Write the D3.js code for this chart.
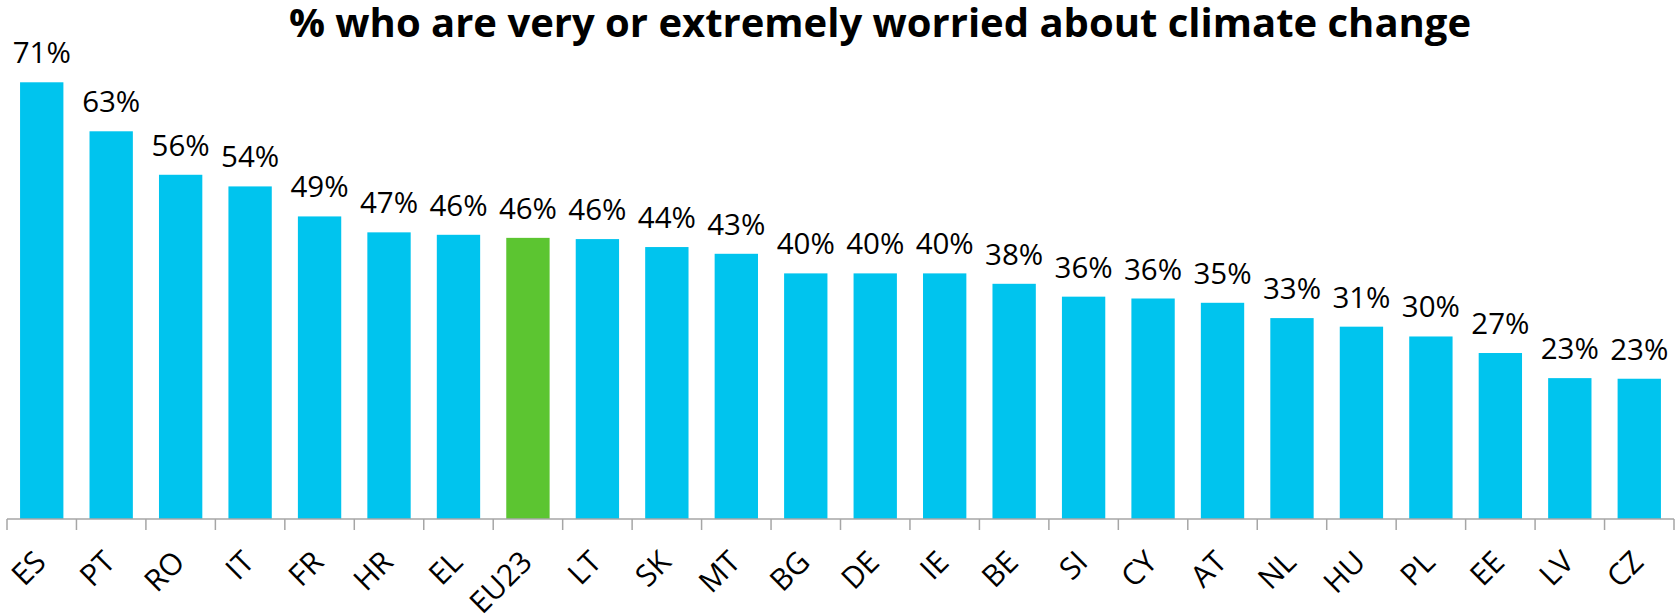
<!DOCTYPE html>
<html>
<head>
<meta charset="utf-8">
<script src="https://cdn.jsdelivr.net/npm/d3@7"></script>
<style>
  body { margin: 0; background: #fff; }
  svg text { font-family: "Open Sans", "Noto Sans", sans-serif; fill: #000; }
</style>
</head>
<body>
<div id="chart"></div>
<script>
// country codes, in chart order
const countries = ['ES', 'PT', 'RO', 'IT', 'FR', 'HR', 'EL', 'EU23', 'LT', 'SK', 'MT', 'BG',
  'DE', 'IE', 'BE', 'SI', 'CY', 'AT', 'NL', 'HU', 'PL', 'EE', 'LV', 'CZ'];

// % very or extremely worried (labels are rounded)
const worried = [71.3, 63.3, 56.2, 54.3, 49.4, 46.8, 46.4, 45.9, 45.7, 44.4, 43.3, 40.1,
  40.1, 40.1, 38.4, 36.3, 36.0, 35.3, 32.8, 31.4, 29.8, 27.1, 23.0, 22.9];

const highlight = ['EU23'];

const chartTitle = '% who are very or extremely worried about climate change';

var width = 1675;
var height = 616;
var margin = {top: 29, right: 1, bottom: 97, left: 7};

var svg = d3.select('#chart').append('svg')
  .attr('width', width)
  .attr('height', height);

var x = d3.scaleBand()
  .domain(countries)
  .range([margin.left, width - margin.right])
  .paddingInner(0.376)
  .paddingOuter(0.188);

var y = d3.scaleLinear()
  .domain([0, 80])
  .range([height - margin.bottom, margin.top]);

var data = countries.map((c, i) => ({code: c, value: worried[i]}));

svg.append('g')
  .selectAll('rect')
  .data(data)
  .enter().append('rect')
    .attr('x', d => x(d.code))
    .attr('y', d => y(d.value))
    .attr('width', x.bandwidth())
    .attr('height', d => y(0) - y(d.value))
    .attr('fill', d => highlight.includes(d.code) ? '#5CC531' : '#00C4EE');

// value labels
svg.append('g')
  .selectAll('text')
  .data(data)
  .enter().append('text')
    .attr('x', d => x(d.code) + x.bandwidth() / 2)
    .attr('y', d => y(d.value) - 19)
    .attr('text-anchor', 'middle')
    .style('font-size', '29.5px')
    .text(d => Math.round(d.value) + '%');

// x axis, ticks between categories
var baseY = y(0);
var axis = svg.append('g').attr('class', 'axis');
var step = x.step();
var edges = d3.range(countries.length + 1).map(i => margin.left + i * step);

axis.append('line')
  .attr('x1', edges[0])
  .attr('x2', edges[edges.length - 1])
  .attr('y1', baseY)
  .attr('y2', baseY)
  .attr('stroke', '#a6a6a6')
  .attr('stroke-width', 1.5);

axis.selectAll('.tick')
  .data(edges)
  .enter().append('line')
    .attr('class', 'tick')
    .attr('x1', d => d)
    .attr('x2', d => d)
    .attr('y1', baseY)
    .attr('y2', baseY + 11)
    .attr('stroke', '#a6a6a6')
    .attr('stroke-width', 1.5);

axis.selectAll('.label')
  .data(countries)
  .enter().append('text')
    .attr('class', 'label')
    .attr('text-anchor', 'end')
    .attr('transform', d => 'translate(' + (x(d) + x.bandwidth() / 2 - 9) + ',' + (baseY + 30) + ') rotate(-45)')
    .attr('dy', '0.7em')
    .style('font-size', '30px')
    .text(d => d);

svg.append('text')
  .attr('x', 880)
  .attr('y', 37)
  .attr('text-anchor', 'middle')
  .style('font-size', '40px')
  .style('font-weight', 'bold')
  .text(chartTitle);
</script>
</body>
</html>
